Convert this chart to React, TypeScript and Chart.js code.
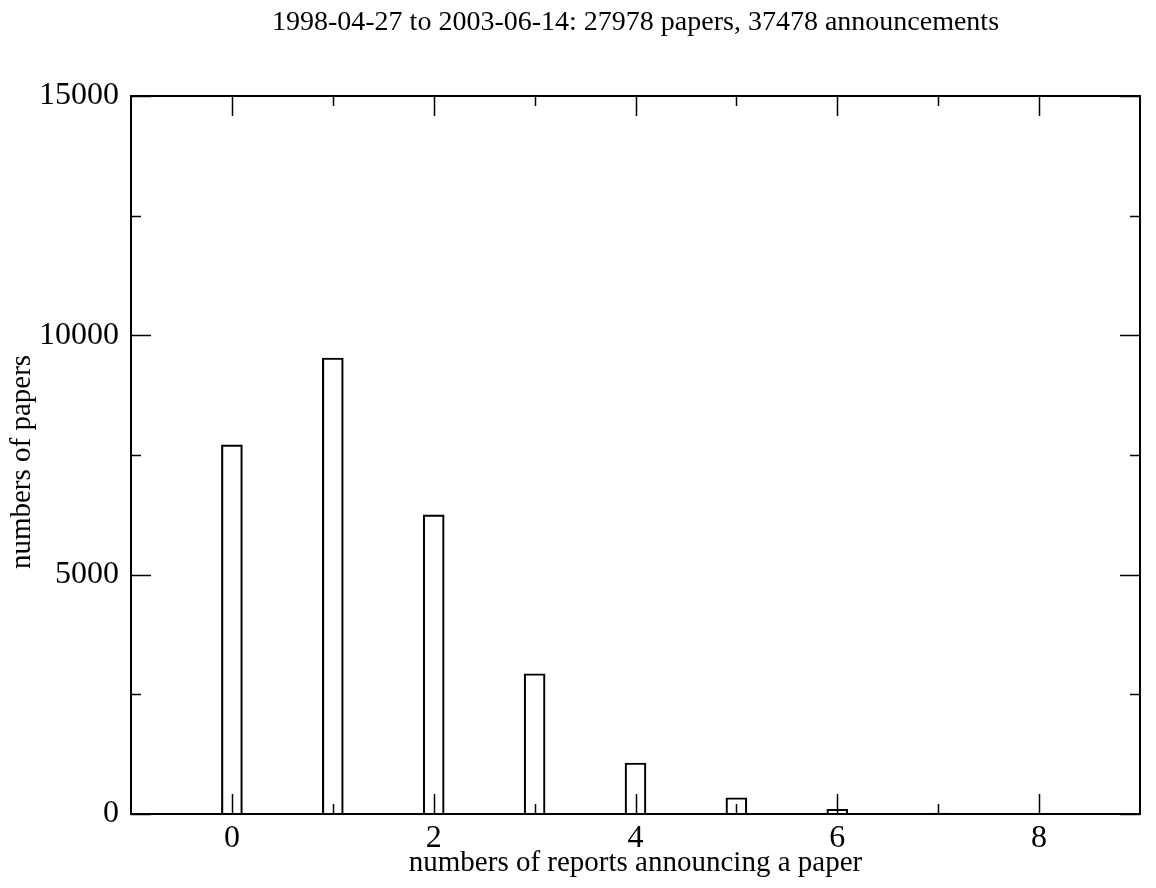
import React, { useEffect, useRef } from "react";
import { Chart, registerables } from "chart.js";
Chart.register(...registerables);

const reportCounts = [0, 1, 2, 3, 4, 5, 6, 7, 8];
const paperCounts = [7710, 9526, 6250, 2930, 1065, 340, 100, 20, 10];
const xMajorTicks = [0, 2, 4, 6, 8];
const xMinorTicks = [1, 3, 5, 7];
const yMajorTicks = [0, 5000, 10000, 15000];
const yMinorTicks = [2500, 7500, 12500];
const titleText = "1998-04-27 to 2003-06-14: 27978 papers, 37478 announcements";
const xTitle = "numbers of reports announcing a paper";
const yTitle = "numbers of papers";

const FONT = "'Liberation Serif', 'Times New Roman', serif";
const TITLE_FS = 28;
const AXIS_FS = 29;
const TICK_FS = 32;

const framePlugin = {
  id: "framePlugin",
  afterDraw(chart: any) {
    const { ctx, chartArea: a, scales } = chart;
    const xs = scales.x;
    const ys = scales.y;
    ctx.save();
    ctx.strokeStyle = "#000";
    ctx.lineWidth = 2;
    ctx.strokeRect(a.left, a.top, a.right - a.left, a.bottom - a.top);
    ctx.lineWidth = 1.5;
    const major = 20;
    const minor = 10;
    ctx.beginPath();
    const xt = (v: number, len: number) => {
      const px = Math.round(xs.getPixelForValue(v)) + 0.5;
      ctx.moveTo(px, a.bottom);
      ctx.lineTo(px, a.bottom - len);
      ctx.moveTo(px, a.top);
      ctx.lineTo(px, a.top + len);
    };
    const yt = (v: number, len: number) => {
      const py = Math.round(ys.getPixelForValue(v)) + 0.5;
      ctx.moveTo(a.left, py);
      ctx.lineTo(a.left + len, py);
      ctx.moveTo(a.right, py);
      ctx.lineTo(a.right - len, py);
    };
    xMajorTicks.forEach((v) => xt(v, major));
    xMinorTicks.forEach((v) => xt(v, minor));
    yMajorTicks.forEach((v) => yt(v, major));
    yMinorTicks.forEach((v) => yt(v, minor));
    ctx.stroke();

    ctx.fillStyle = "#000";
    ctx.textAlign = "center";
    ctx.textBaseline = "middle";
    const cx = (a.left + a.right) / 2;
    ctx.font = `${TITLE_FS}px ${FONT}`;
    ctx.fillText(titleText, cx, 23);
    ctx.font = `${AXIS_FS}px ${FONT}`;
    ctx.fillText(xTitle, cx, 863);
    ctx.translate(22, 462);
    ctx.rotate(-Math.PI / 2);
    ctx.fillText(yTitle, 0, 0);
    ctx.restore();
  },
};

export default function App() {
  const ref = useRef<HTMLCanvasElement | null>(null);
  useEffect(() => {
    if (!ref.current) return;
    const chart = new Chart(ref.current, {
      type: "bar",
      data: {
        datasets: [
          {
            data: reportCounts.map((x, i) => ({ x, y: paperCounts[i] })),
            backgroundColor: "rgba(255,255,255,0)",
            borderColor: "#000",
            borderWidth: 1.5,
            barThickness: 21,
          },
        ],
      },
      options: {
        responsive: false,
        animation: false,
        devicePixelRatio: 1,
        layout: { padding: { top: 96, right: 16, left: 0, bottom: 0 } },
        plugins: { legend: { display: false }, tooltip: { enabled: false }, title: { display: false } },
        scales: {
          x: {
            type: "linear",
            min: -1,
            max: 9,
            offset: false,
            grid: { display: false },
            border: { display: false },
            afterFit: (s: any) => {
              s.height = 74;
            },
            afterBuildTicks: (s: any) => {
              s.ticks = xMajorTicks.map((v) => ({ value: v }));
            },
            ticks: {
              padding: -3,
              color: "#000",
              font: { family: FONT, size: TICK_FS },
              maxRotation: 0,
            },
          },
          y: {
            min: 0,
            max: 15000,
            grid: { display: false },
            border: { display: false },
            afterFit: (s: any) => {
              s.width = 131;
            },
            afterBuildTicks: (s: any) => {
              s.ticks = yMajorTicks.map((v) => ({ value: v }));
            },
            ticks: {
              padding: 4,
              color: "#000",
              font: { family: FONT, size: TICK_FS },
              callback: (v: any) => String(v),
            },
          },
        },
      },
      plugins: [framePlugin],
    });
    return () => chart.destroy();
  }, []);
  return (
    <div style={{ position: "absolute", left: 0, top: 0, width: 1156, height: 888, background: "#fff" }}>
      <canvas ref={ref} width={1156} height={888} />
    </div>
  );
}
